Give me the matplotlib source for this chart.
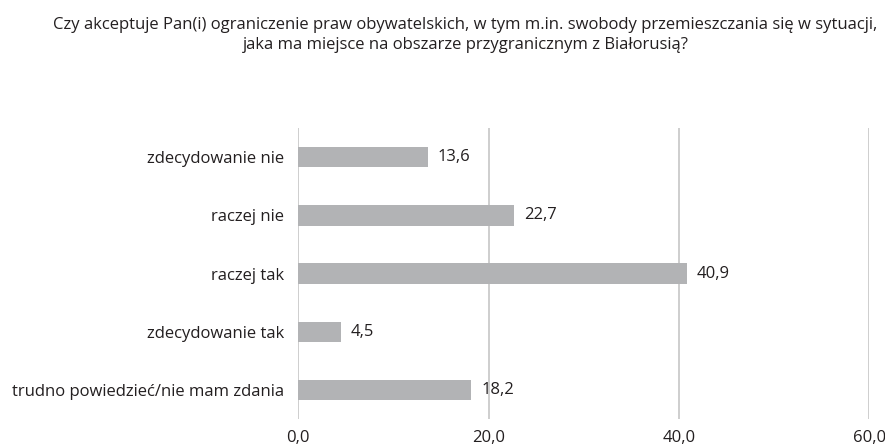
import matplotlib
matplotlib.use("Agg")
import matplotlib.pyplot as plt

plt.rcParams['font.family'] = ['Open Sans', 'DejaVu Sans']

title = ("Czy akceptuje Pan(i) ograniczenie praw obywatelskich, w tym m.in. swobody przemieszczania się w sytuacji,\n"
         "jaka ma miejsce na obszarze przygranicznym z Białorusią?")
categories = ["zdecydowanie nie", "raczej nie", "raczej tak",
              "zdecydowanie tak", "trudno powiedzieć/nie mam zdania"]
values = [13.6, 22.7, 40.9, 4.5, 18.2]
xticks = [0, 20, 40, 60]

BAR = "#B2B3B5"
GRID = "#CACACA"
TEXT = "#231F20"
FS = 12

fig = plt.figure(figsize=(8.85, 4.47), dpi=100)
ax = fig.add_axes([0.337, 0.0626, 0.645, 0.651])

pos = range(len(categories))
ax.barh(pos, values, height=0.35, color=BAR, zorder=3)
for p, v in zip(pos, values):
    ax.annotate(f"{v:.1f}".replace(".", ","), (v, p), xytext=(7, 0),
                textcoords="offset points", va="center", ha="left",
                fontsize=FS, color=TEXT)

ax.set_ylim(len(categories) - 0.5, -0.5)
ax.set_xlim(0, 60)
ax.set_yticks(list(pos))
ax.set_yticklabels(categories, fontsize=FS, color=TEXT)
ax.set_xticks(xticks)
ax.set_xticklabels([f"{t:.1f}".replace(".", ",") for t in xticks],
                   fontsize=FS, color=TEXT)
ax.tick_params(length=0)
ax.tick_params(axis="x", pad=8)
ax.tick_params(axis="y", pad=10)
for s in ax.spines.values():
    s.set_visible(False)
ax.grid(axis="x", color=GRID, linewidth=1.3, zorder=0)
ax.set_axisbelow(True)

fig.text(0.526, 0.963, title, ha="center", va="top", fontsize=FS,
         color=TEXT, linespacing=1.4)

fig.savefig("out.png", dpi=100)
